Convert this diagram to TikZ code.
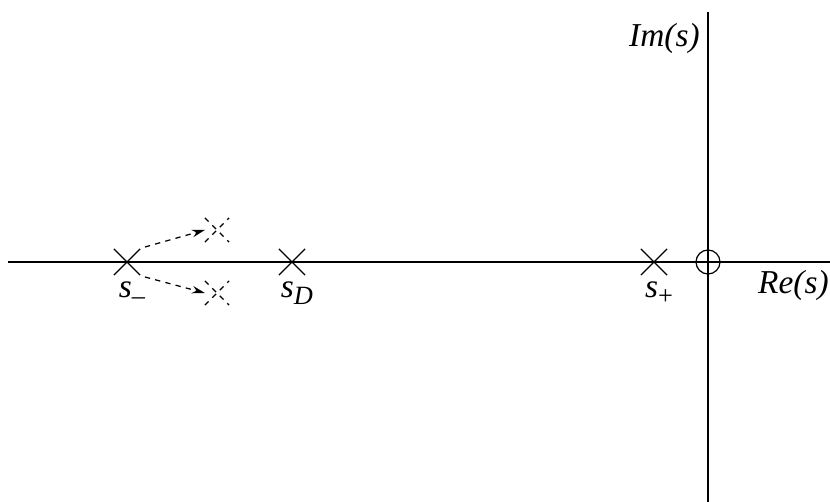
\documentclass[tikz,border=0pt]{standalone}
\usepackage{fontspec}
\setmainfont{Liberation Serif}
\usetikzlibrary{arrows.meta,positioning,shapes.misc}
\newcommand{\lowsub}[1]{\raisebox{-0.5ex}{\fontsize{15}{15}\selectfont #1}}

\begin{document}
\begin{tikzpicture}[
  x=0.02cm, y=-0.02cm,
  axis/.style={line width=1.4pt},
  pole/.style={draw, cross out, line width=0.7pt, minimum size=0.5cm, inner sep=0pt},
  movedpole/.style={pole, dashed, minimum size=0.46cm},
  lbl/.style={font=\fontsize{19}{22}\selectfont\itshape, inner sep=0pt},
  >={Stealth[length=2.6mm, width=1.5mm]}
]
  \useasboundingbox (0,0) rectangle (830,502);
  % axes
  \coordinate (west) at (8,262);
  \coordinate (east) at (830,262);
  \coordinate (north) at (708,12);
  \coordinate (south) at (708,502);
  \draw[axis] (west) -- (east);
  \draw[axis] (north) -- (south);
  \node[lbl, anchor=east] (im) at (700,38) {Im(s)};
  \node[lbl, anchor=east] (re) at (829,285) {Re(s)};
  % poles and zero
  \node[pole] (sm) at (127,262) {};
  \node[pole] (sd) at (292,262) {};
  \node[pole] (sp) at (654,262) {};
  \node[draw, circle, line width=0.7pt, minimum size=0.48cm, inner sep=0pt] (zero) at (708,262) {};
  \node[movedpole] (up) at (217,230) {};
  \node[movedpole] (dn) at (217,293) {};
  \node[lbl, below=0.12cm of sm, xshift=0.1cm] (smlbl) {s\lowsub{\upshape\textendash}};
  \node[lbl, below=0.12cm of sd, xshift=0.1cm] (sdlbl) {s\lowsub{D}};
  \node[lbl, below=0.12cm of sp, xshift=0.1cm] (splbl) {s\lowsub{\upshape +}};
  % movement of s_-
  \draw[->, dashed, line width=0.7pt] ([xshift=0.36cm,yshift=0.3cm]sm.center) -- (up.west);
  \draw[->, dashed, line width=0.7pt] ([xshift=0.36cm,yshift=-0.3cm]sm.center) -- (dn.west);
\end{tikzpicture}
\end{document}
